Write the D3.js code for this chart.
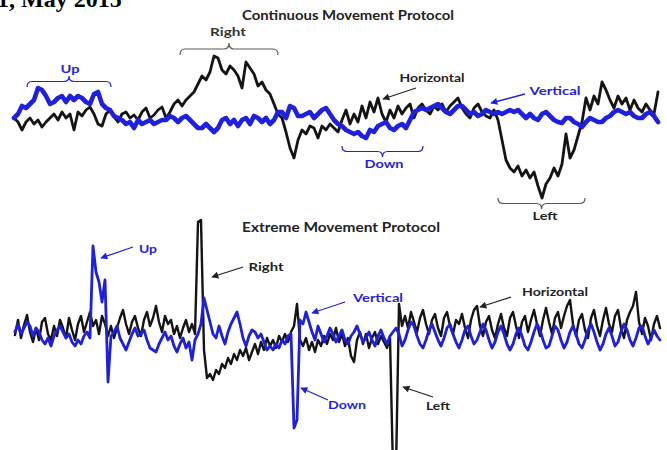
<!DOCTYPE html>
<html>
<head>
<meta charset="utf-8">
<script src="https://cdn.jsdelivr.net/npm/d3@7"></script>
<style>
  body { margin: 0; background: #fff; }
  svg { display: block; }
</style>
</head>
<body>
<script>
// EOG recordings: horizontal (black) and vertical (blue) channels, amplitude per sample.
const TOP_SAMPLES = 162;
const BOTTOM_SAMPLES = 216;

const continuousHorizontal = [
  0, -4, -12, -4, 0, -6, -2, -9, -4, 0,
  4, -2, 6, 0, 4, -12, 6, 2, 8, 11,
  4, -6, -8, 4, 8, 1, -4, 4, 6, 0,
  3, -2, 6, 10, 0, 3, 8, 11, 0, 6,
  14, 18, 12, 18, 22, 26, 34, 42, 38, 46,
  62, 60, 48, 44, 52, 48, 42, 30, 56, 50,
  44, 32, 36, 28, 24, 14, 4, 0, -14, -30,
  -40, -22, -12, -16, -8, -10, -20, -8, -12, -6,
  -10, -14, -2, 8, -6, 4, -4, 12, 0, 16,
  6, 20, 4, -4, 8, 0, 12, 4, 10, 14,
  0, 10, 14, 8, 4, 12, 8, 14, 6, 12,
  16, 20, 10, 4, 0, 10, 14, 6, 2, 0,
  8, -2, -22, -42, -50, -54, -48, -58, -52, -60,
  -54, -68, -80, -66, -60, -50, -58, -46, -16, -40,
  -32, -18, -4, 20, 8, 22, 14, 36, 28, 18,
  10, 22, 14, 20, 8, 18, 10, 6, 14, 8,
  4, 26
];

const continuousVertical = [
  0, 4, 12, 10, 14, 18, 30, 28, 22, 14,
  16, 20, 22, 16, 22, 18, 22, 20, 16, 14,
  24, 26, 14, 10, 8, 2, 0, -2, -6, -4,
  -10, -2, -6, -4, -2, -6, -4, -2, -2, 2,
  0, -4, 0, 2, -2, -6, -10, -10, -6, -10,
  -14, -10, -2, 0, -6, -2, -8, -2, 0, -6,
  2, 0, -4, 0, -6, -2, 6, 6, 0, 12,
  10, 2, 2, 4, 6, 0, 4, 8, 10, 4,
  -2, -6, -8, -12, -14, -16, -14, -18, -20, -12,
  -14, -8, -6, -4, -10, -12, -8, -6, -10, -2,
  6, 8, 10, 8, 10, 12, 14, 10, 6, 4,
  8, 12, 12, 8, 4, 6, 2, 4, 8, 6,
  4, 6, 4, 6, 8, 6, 8, 4, 0, 4,
  0, -2, 4, 6, 2, -2, -4, -5, 0, 0,
  -4, -6, -9, -4, 0, -2, -4, -4, 0, 2,
  6, 8, 6, 4, 6, 2, 0, 0, 4, 6,
  2, -4
];

const extremeHorizontal = [
  -5, 10, -8, 5, 15, -2, -12, 2, -10, 8,
  12, -4, -10, 4, -6, 10, 2, -8, 12, 0,
  -10, 6, 14, -2, 8, 18, 4, 10, -4, 14,
  6, -6, 4, -8, 2, 12, 20, 6, -4, 8,
  14, 2, -6, 10, 18, 4, 12, 24, 8, -2,
  14, 6, 10, -4, 4, -8, 2, 10, -2, 6,
  -4, 108, 110, -20, -48, -44, -50, -40, -44, -34,
  -38, -28, -34, -24, -30, -20, -26, -18, -30, -22,
  -14, -24, -12, -20, -8, -16, -10, -18, -6, -12,
  -4, -12, -2, 4, 26, -10, -16, -8, -20, -12,
  -22, -10, -16, -6, -14, -4, -10, 2, -12, -4,
  -16, -8, -26, -32, -10, -2, -14, -4, -18, -8,
  -2, -14, -6, -12, -18, -8, -140, -140, 26, 4,
  14, 2, 18, 8, -2, 12, 20, 6, -4, 10,
  16, 2, -6, 12, 18, 4, -4, 10, 6, 16,
  2, -8, 10, 20, 24, 4, -6, 8, 14, 0,
  -8, 6, 16, 2, -6, 12, 18, 4, -8, 8,
  14, -2, 10, 20, 6, -6, 10, 22, 8, -4,
  12, 18, 2, 14, 24, 30, 6, -6, 10, 16,
  0, -8, 12, 20, 4, -6, 10, 22, 6, -2,
  14, 20, 2, -8, 10, 18, 24, 38, 8, -4,
  12, 4, -10, 6, 14, 2
];

const extremeVertical = [
  -2, 6, -4, 2, 8, 4, -6, 2, -2, -10,
  -14, -8, -16, -6, 0, 4, -2, -8, -4, -12,
  -16, -10, -14, -6, -2, -8, 84, 58, 48, 28,
  50, -52, -6, -2, 4, -8, -14, -20, -12, -4,
  2, -6, -4, 0, -10, -18, -20, -22, -14, -8,
  -2, -10, -6, -16, -22, -14, -8, -18, -12, -30,
  -10, -4, 6, 32, 20, 8, -4, -8, 4, -6,
  -14, -2, 6, 12, 18, 6, -8, -16, -6, 0,
  -2, -8, -4, -12, -20, -16, -20, -14, -18, -10,
  -14, -6, -4, -98, -90, 10, 6, 18, 8, -2,
  -10, 4, -4, -12, -6, 2, -4, -12, -6, 0,
  -10, -14, -6, -2, 4, -4, -12, -8, -2, -10,
  -16, -6, 0, -8, -14, -6, -2, 2, -4, -16,
  -10, 0, 8, 4, -6, -14, -18, -10, 0, 6,
  -2, -10, -16, -8, 2, 6, -4, -12, -18, -10,
  0, 4, -6, -14, -10, -2, 6, 0, -10, -18,
  -12, -2, 4, -4, -14, -20, -14, -4, 2, -6,
  -16, -20, -12, -2, 6, 0, -10, -18, -16, -6,
  4, 0, -10, -18, -12, -2, 4, -4, -14, -18,
  -10, 0, 6, -2, -12, -20, -14, -4, 2, -6,
  -16, -12, -2, 6, 0, -10, -16, -8, 2, 4,
  -6, -14, -8, 0, -6, -10
];

const panelTitles = ["Continuous Movement Protocol", "Extreme Movement Protocol"];
const headerText = "1, May 2015";

const BLACK = "#141414";
const BLUE = "#1f1fe0";
const GREY = "#5a5a5a";
const FONT = "Lato, 'Open Sans', sans-serif";

const W = 667, H = 450;
const svg = d3.select("body").append("svg")
  .attr("width", W).attr("height", H)
  .attr("viewBox", `0 0 ${W} ${H}`);

// Arrowheads
const defs = svg.append("defs");
[["arrowBlack", "#222"], ["arrowBlue", BLUE]].forEach(([id, c]) => {
  defs.append("marker")
    .attr("id", id)
    .attr("viewBox", "0 0 10 10")
    .attr("refX", 9).attr("refY", 5)
    .attr("markerWidth", 8).attr("markerHeight", 7)
    .attr("markerUnits", "userSpaceOnUse")
    .attr("orient", "auto")
    .append("path")
    .attr("d", "M0,0 L10,5 L0,10 z")
    .attr("fill", c);
});

// Header line from the journal page, cut at the top edge
svg.append("text")
  .attr("x", -3).attr("y", 7)
  .attr("font-family", "'Liberation Serif', 'Times New Roman', serif")
  .attr("font-weight", "bold")
  .attr("font-size", 24)
  .attr("fill", "#000")
  .text(headerText);

// Scales
const xTop = d3.scaleLinear().domain([0, TOP_SAMPLES - 1]).range([14, 658]);
const yTop = d3.scaleLinear().domain([-100, 80]).range([218, 38]);
const xBot = d3.scaleLinear().domain([0, BOTTOM_SAMPLES - 1]).range([15, 660]);
const yBot = d3.scaleLinear().domain([-140, 120]).range([470, 210]);

function trace(g, data, x, y, color, width) {
  const line = d3.line().x((d, i) => x(i)).y(d => y(d));
  g.append("path")
    .datum(data)
    .attr("d", line)
    .attr("fill", "none")
    .attr("stroke", color)
    .attr("stroke-width", width)
    .attr("stroke-linejoin", "round")
    .attr("stroke-linecap", "round");
}

const topPanel = svg.append("g").attr("class", "continuous");
trace(topPanel, continuousHorizontal, xTop, yTop, BLACK, 2.8);
trace(topPanel, continuousVertical, xTop, yTop, BLUE, 4.6);

const bottomPanel = svg.append("g").attr("class", "extreme");
trace(bottomPanel, extremeHorizontal, xBot, yBot, BLACK, 2.4);
trace(bottomPanel, extremeVertical, xBot, yBot, BLUE, 2.8);

// Text helpers: labels are fitted to a fixed width
function label(x, y, txt, color, width, size = 12) {
  svg.append("text")
    .attr("x", x).attr("y", y)
    .attr("text-anchor", "middle")
    .attr("font-family", FONT)
    .attr("font-weight", "bold")
    .attr("font-size", size)
    .attr("fill", color)
    .attr("textLength", width)
    .attr("lengthAdjust", "spacingAndGlyphs")
    .text(txt);
}
function arrow(x1, y1, x2, y2, color, marker) {
  svg.append("line")
    .attr("x1", x1).attr("y1", y1).attr("x2", x2).attr("y2", y2)
    .attr("stroke", color).attr("stroke-width", 1.3)
    .attr("marker-end", `url(#${marker})`);
}
function brace(x1, x2, yEnd, yTip, color) {
  const xm = (x1 + x2) / 2, ym = (yEnd + yTip) / 2, q = 5;
  const p = `M${x1},${yEnd} Q${x1},${ym} ${x1 + q},${ym} L${xm - q},${ym} ` +
            `Q${xm},${ym} ${xm},${yTip} Q${xm},${ym} ${xm + q},${ym} ` +
            `L${x2 - q},${ym} Q${x2},${ym} ${x2},${yEnd}`;
  svg.append("path").attr("d", p)
    .attr("fill", "none").attr("stroke", color).attr("stroke-width", 1.2);
}

// Panel titles
label(348, 20, panelTitles[0], "#222", 212, 12.5);
label(341, 232, panelTitles[1], "#222", 198, 12.5);

// Continuous protocol annotations
brace(180, 278, 55, 43, GREY);
label(228, 36, "Right", "#333", 36);
brace(27, 111, 87, 76, BLUE);
label(70, 73, "Up", BLUE, 19);
label(432, 82, "Horizontal", "#222", 65);
arrow(416, 88, 383, 99, "#222", "arrowBlack");
label(555, 95, "Vertical", BLUE, 51);
arrow(525, 94, 491, 103, BLUE, "arrowBlue");
brace(342, 423, 146, 157, BLUE);
label(384, 168, "Down", BLUE, 39);
brace(498, 585, 198, 209, GREY);
label(545, 220, "Left", "#222", 25);

// Extreme protocol annotations
label(148, 253, "Up", BLUE, 18);
arrow(133, 247, 101, 258, BLUE, "arrowBlue");
label(266, 271, "Right", "#222", 35);
arrow(243, 267, 212, 277, "#222", "arrowBlack");
label(378, 302, "Vertical", BLUE, 50);
arrow(345, 302, 312, 313, BLUE, "arrowBlue");
label(555, 296, "Horizontal", "#222", 66);
arrow(511, 297, 480, 307, "#222", "arrowBlack");
label(347, 409, "Down", BLUE, 38);
arrow(328, 400, 301, 388, BLUE, "arrowBlue");
label(438, 410, "Left", "#222", 24);
arrow(433, 397, 403, 387, "#222", "arrowBlack");
</script>
</body>
</html>
